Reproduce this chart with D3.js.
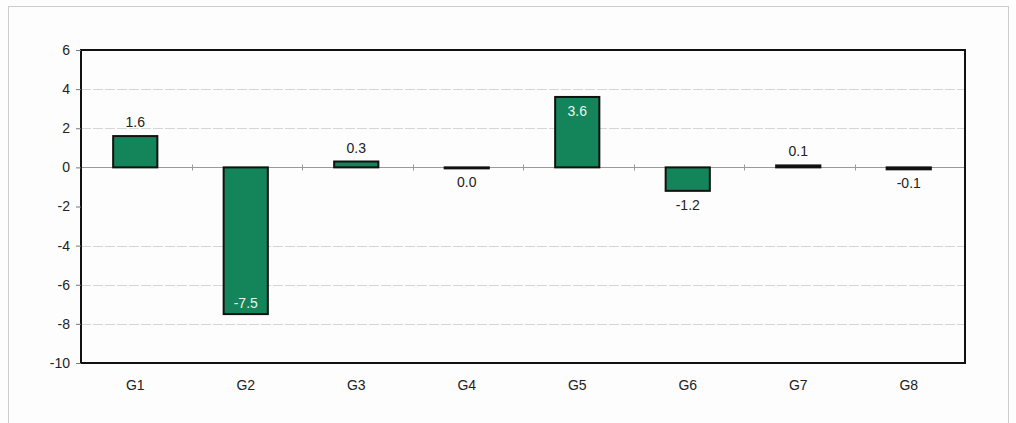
<!DOCTYPE html>
<html>
<head>
<meta charset="utf-8">
<script src="https://cdn.jsdelivr.net/npm/d3@7"></script>
<style>
  html, body { margin: 0; padding: 0; background: #fdfdfd; }
  svg { display: block; }
  text { font-family: "Liberation Sans", Arial, sans-serif; }
</style>
</head>
<body>
<svg id="chart" width="1016" height="423"></svg>
<script>
const categories = ["G1", "G2", "G3", "G4", "G5", "G6", "G7", "G8"];
const values = [1.6, -7.5, 0.3, -0.04, 3.6, -1.2, 0.1, -0.1];
const valueLabels = ["1.6", "-7.5", "0.3", "0.0", "3.6", "-1.2", "0.1", "-0.1"];
const labelInside = [false, true, false, false, true, false, false, false];
const yTicks = [6, 4, 2, 0, -2, -4, -6, -8, -10];
const gridValues = [4, 2, -4, -6, -8];

const svg = d3.select("#chart");
const W = 1016, H = 423;
const m = { left: 81, right: 51, top: 50, bottom: 60 };
const x0 = m.left, x1 = W - m.right, y0 = m.top, y1 = H - m.bottom;

// outer frame
svg.append("rect").attr("x", 8.5).attr("y", 6.5).attr("width", 1000).attr("height", 430)
  .attr("fill", "#fdfdfd").attr("stroke", "#cccccc").attr("stroke-width", 1);

const x = d3.scaleBand().domain(categories).range([x0, x1]).paddingInner(0.6).paddingOuter(0.3);
const y = d3.scaleLinear().domain([-10, 6]).range([y1, y0]);

// gridlines
svg.append("g").selectAll("line").data(gridValues).join("line")
  .attr("x1", x0).attr("x2", x1)
  .attr("y1", d => Math.round(y(d)) + 0.5).attr("y2", d => Math.round(y(d)) + 0.5)
  .attr("stroke", "#d6d6d6").attr("stroke-width", 1).attr("stroke-dasharray", "10,2");

// zero line with category ticks
const zy = Math.round(y(0)) + 0.5;
svg.append("line").attr("x1", x0).attr("x2", x1).attr("y1", zy).attr("y2", zy)
  .attr("stroke", "#9a9a9a").attr("stroke-width", 1);
const bounds = d3.range(1, categories.length).map(i => x0 + i * (x1 - x0) / categories.length);
svg.append("g").selectAll("line").data(bounds).join("line")
  .attr("x1", d => Math.round(d) + 0.5).attr("x2", d => Math.round(d) + 0.5)
  .attr("y1", zy - 3).attr("y2", zy + 3)
  .attr("stroke", "#9a9a9a").attr("stroke-width", 1);

// bars
svg.append("g").selectAll("rect").data(values).join("rect")
  .attr("x", (d, i) => x(categories[i]) - 1)
  .attr("width", x.bandwidth())
  .attr("y", d => Math.min(y(d), y(0)))
  .attr("height", d => Math.max(Math.abs(y(d) - y(0)), 1))
  .attr("fill", "#14845a")
  .attr("stroke", "#111").attr("stroke-width", 2);

// value labels
svg.append("g").selectAll("text").data(values).join("text")
  .attr("x", (d, i) => x(categories[i]) - 1 + x.bandwidth() / 2)
  .attr("y", (d, i) => {
    if (labelInside[i]) return d >= 0 ? y(d) + 19 : y(d) - 6;
    return d >= 0 ? y(d) - 9 : y(d) + 19;
  })
  .attr("text-anchor", "middle")
  .attr("font-size", 14)
  .attr("fill", (d, i) => labelInside[i] ? "#e8f5ee" : "#222")
  .text((d, i) => valueLabels[i]);

// plot frame
svg.append("rect").attr("x", x0).attr("y", y0).attr("width", x1 - x0).attr("height", y1 - y0)
  .attr("fill", "none").attr("stroke", "#111").attr("stroke-width", 2);

// y axis
const yAxis = d3.axisLeft(y).tickValues(yTicks).tickSize(5).tickPadding(6).tickFormat(d => String(d));
const ya = svg.append("g").attr("transform", `translate(${x0},0)`).call(yAxis);
ya.select(".domain").remove();
ya.selectAll(".tick line").attr("stroke", "#777");
ya.selectAll(".tick text").attr("font-size", 14).attr("fill", "#222")
  .attr("font-family", "Liberation Sans, Arial, sans-serif");

// x axis labels
const xAxis = d3.axisBottom(x).tickSize(0).tickPadding(17);
const xa = svg.append("g").attr("transform", `translate(-1,${y1})`).call(xAxis);
xa.select(".domain").remove();
xa.selectAll(".tick text").attr("font-size", 14).attr("fill", "#222")
  .attr("font-family", "Liberation Sans, Arial, sans-serif");
</script>
</body>
</html>
